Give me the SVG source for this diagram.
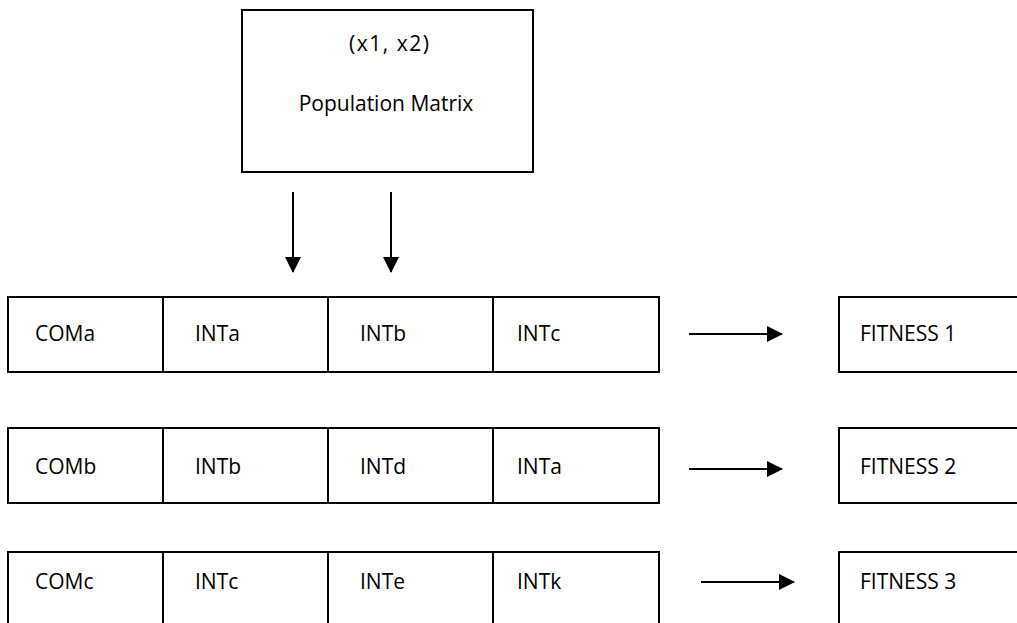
<svg xmlns="http://www.w3.org/2000/svg" width="1017" height="623" viewBox="0 0 1017 623">
<defs>
<style>
rect{fill:#fff;stroke:#000;stroke-width:2}
.d{stroke:#000;stroke-width:2}
text{font-family:"Open Sans",Lato,"Liberation Sans",sans-serif;font-size:21px;fill:#000}
.c{stroke:#000;stroke-width:2;fill:none}
</style>
<marker id="ah" markerWidth="16" markerHeight="16" refX="15" refY="8" orient="auto" markerUnits="userSpaceOnUse" viewBox="0 0 16 16">
<path d="M0,0 L16,8 L0,16 Z" fill="#000"/>
</marker>
</defs>
<rect x="0" y="0" width="1017" height="623" style="fill:#fff;stroke:none"/>
<g id="population">
<rect x="242" y="10" width="291" height="162"/>
<text x="389" y="51" text-anchor="middle" textLength="80" lengthAdjust="spacing">(x1, x2)</text>
<text x="386" y="111" text-anchor="middle">Population Matrix</text>
</g>
<g id="row1">
<rect x="8" y="297" width="651" height="75"/>
<line class="d" x1="163" y1="297" x2="163" y2="372"/>
<line class="d" x1="328" y1="297" x2="328" y2="372"/>
<line class="d" x1="493" y1="297" x2="493" y2="372"/>
<text x="35" y="341">COMa</text>
<text x="195" y="341">INTa</text>
<text x="360" y="341">INTb</text>
<text x="517" y="341">INTc</text>
</g>
<g id="row2">
<rect x="8" y="428" width="651" height="75"/>
<line class="d" x1="163" y1="428" x2="163" y2="503"/>
<line class="d" x1="328" y1="428" x2="328" y2="503"/>
<line class="d" x1="493" y1="428" x2="493" y2="503"/>
<text x="35" y="474">COMb</text>
<text x="195" y="474">INTb</text>
<text x="360" y="474">INTd</text>
<text x="517" y="474">INTa</text>
</g>
<g id="row3">
<rect x="8" y="552" width="651" height="80"/>
<line class="d" x1="163" y1="552" x2="163" y2="632"/>
<line class="d" x1="328" y1="552" x2="328" y2="632"/>
<line class="d" x1="493" y1="552" x2="493" y2="632"/>
<text x="35" y="589">COMc</text>
<text x="195" y="589">INTc</text>
<text x="360" y="589">INTe</text>
<text x="517" y="589">INTk</text>
</g>
<g id="fitness1">
<rect x="839" y="297" width="200" height="75"/>
<text x="860" y="341">FITNESS 1</text>
</g>
<g id="fitness2">
<rect x="839" y="428" width="200" height="75"/>
<text x="860" y="474">FITNESS 2</text>
</g>
<g id="fitness3">
<rect x="839" y="552" width="200" height="80"/>
<text x="860" y="589">FITNESS 3</text>
</g>
<g id="connectors">
<line class="c" x1="293" y1="192" x2="293" y2="272" marker-end="url(#ah)"/>
<line class="c" x1="391" y1="192" x2="391" y2="272" marker-end="url(#ah)"/>
<line class="c" x1="689" y1="334" x2="782" y2="334" marker-end="url(#ah)"/>
<line class="c" x1="689" y1="469" x2="782" y2="469" marker-end="url(#ah)"/>
<line class="c" x1="701" y1="582" x2="794" y2="582" marker-end="url(#ah)"/>
</g>
</svg>
